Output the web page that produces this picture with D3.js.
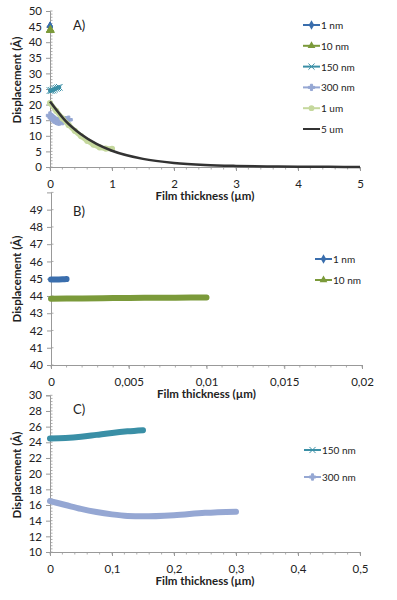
<!DOCTYPE html>
<html>
<head>
<meta charset="utf-8">
<script src="https://cdn.jsdelivr.net/npm/d3@7"></script>
<style>
  body { margin: 0; background: #fff; }
  svg text { font-family: Lato, "Open Sans", sans-serif; fill: #222; }
</style>
</head>
<body>
<svg id="chart" width="397" height="600"></svg>
<script>
// series values, thickness in µm, displacement in Å
var nm1X = [0, 0.00025, 0.0005, 0.00075, 0.001];
var nm1Y = [44.95, 44.95, 44.96, 44.97, 44.98];
var nm10X = [0, 0.002, 0.004, 0.006, 0.008, 0.01];
var nm10Y = [43.84, 43.86, 43.88, 43.89, 43.9, 43.91];
var nm150X = [0, 0.025, 0.05, 0.075, 0.1, 0.125, 0.15];
var nm150Y = [24.5, 24.55, 24.7, 24.95, 25.2, 25.4, 25.55];
var nm300X = [0, 0.025, 0.05, 0.075, 0.1, 0.125, 0.15, 0.2, 0.25, 0.3];
var nm300Y = [16.5, 16.0, 15.5, 15.1, 14.8, 14.6, 14.55, 14.7, 15.0, 15.15];
var um1X = [0, 0.1, 0.2, 0.3, 0.4, 0.5, 0.6, 0.7, 0.8, 0.9, 1.0];
var um1Y = [20.5, 18.0, 15.6, 13.5, 11.6, 9.9, 8.4, 7.2, 6.3, 5.9, 5.8];
var um5X = [0, 0.25, 0.5, 0.75, 1, 1.5, 2, 2.5, 3, 3.5, 4, 4.5, 5];
var um5Y = [21, 14.8, 10.5, 7.4, 5.2, 2.6, 1.3, 0.65, 0.35, 0.2, 0.1, 0.05, 0.03];

var seriesNames = ["1 nm", "10 nm", "150 nm", "300 nm", "1 um", "5 um"];
var seriesColors = ["#3a6ead", "#7b9a3a", "#3a8fa6", "#95a7d3", "#c5d89d", "#333333"];
var seriesMarkers = ["diamond", "triangle", "star", "plus", "circle", "none"];

function zip(xs, ys) { return xs.map(function(x, i) { return [x, ys[i]]; }); }
var allSeries = [zip(nm1X, nm1Y), zip(nm10X, nm10Y), zip(nm150X, nm150Y),
                 zip(nm300X, nm300Y), zip(um1X, um1Y), zip(um5X, um5Y)];

var comma = d3.formatLocale({decimal: ",", thousands: ".", grouping: [3], currency: ["", ""]});

var svg = d3.select("#chart");

function marker(g, type, color, cx, cy, size) {
    var sym = {diamond: d3.symbolDiamond, triangle: d3.symbolTriangle,
               star: d3.symbolX, plus: d3.symbolCross, circle: d3.symbolCircle}[type];
    if (!sym) return;
    g.append("path")
     .attr("d", d3.symbol().type(sym).size(size)())
     .attr("transform", "translate(" + cx + "," + cy + ")")
     .attr("fill", color)
     .attr("stroke", type == "star" || type == "plus" ? color : "none")
     .attr("stroke-width", 1);
}

function drawPanel(p) {
    var x = d3.scaleLinear().domain(p.xDomain).range([p.left, p.right]);
    var y = d3.scaleLinear().domain(p.yDomain).range([p.bottom, p.top]);
    var g = svg.append("g");

    // minor ticks
    g.append("g").selectAll("line").data(d3.range(p.yDomain[0], p.yDomain[1] + 1e-9, p.yMinor))
     .enter().append("line")
     .attr("x1", p.left).attr("x2", p.left + 2.5)
     .attr("y1", function(d) { return y(d); }).attr("y2", function(d) { return y(d); })
     .attr("stroke", "#999").attr("stroke-width", 0.8);
    g.append("g").selectAll("line").data(d3.range(p.xDomain[0], p.xDomain[1] + 1e-9, p.xMinor))
     .enter().append("line")
     .attr("x1", function(d) { return x(d); }).attr("x2", function(d) { return x(d); })
     .attr("y1", p.bottom).attr("y2", p.bottom + 2.5)
     .attr("stroke", "#999").attr("stroke-width", 0.8);

    var yAxis = g.append("g")
       .attr("transform", "translate(" + p.left + ",0)")
       .call(d3.axisLeft(y).tickValues(p.yTicks).tickSize(4).tickPadding(4).tickFormat(d3.format("d")));
    var xAxis = g.append("g")
       .attr("transform", "translate(0," + p.bottom + ")")
       .call(d3.axisBottom(x).tickValues(p.xTicks).tickSize(4).tickPadding(9).tickFormat(comma.format("~g")));
    [yAxis, xAxis].forEach(function(a) {
        a.select(".domain").attr("stroke", "#999");
        a.selectAll(".tick line").attr("stroke", "#999");
        a.selectAll("text").attr("font-size", 11.5).attr("fill", "#222")
         .attr("font-family", "Lato, 'Open Sans', sans-serif");
    });

    g.append("text").attr("x", (p.left + p.right) / 2).attr("y", p.bottom + 33)
     .attr("text-anchor", "middle").attr("font-size", 11.5).attr("font-weight", "bold")
     .text("Film thickness (µm)");
    g.append("text").attr("transform", "translate(21," + p.yTitleY + ") rotate(-90)")
     .attr("text-anchor", "middle").attr("font-size", 11.5).attr("font-weight", "bold")
     .text("Displacement (Å)");
    g.append("text").attr("x", p.labelX).attr("y", p.labelY)
     .attr("font-size", 13).text(p.label);

    var line = d3.line().curve(d3.curveMonotoneX)
        .x(function(d) { return x(d[0]); })
        .y(function(d) { return y(d[1]); });

    p.series.forEach(function(si, k) {
        g.append("path").datum(allSeries[si])
         .attr("d", line)
         .attr("fill", "none")
         .attr("stroke", seriesColors[si])
         .attr("stroke-width", p.widths[k])
         .attr("stroke-linecap", si == 5 ? "butt" : "round")
         .attr("stroke-linejoin", "round");
        if (p.pointMarkers && si != 5) {
            allSeries[si].forEach(function(d) {
                marker(g, seriesMarkers[si], seriesColors[si], x(d[0]), y(d[1]), 30);
            });
        }
    });

    // legend
    p.series.forEach(function(si, k) {
        var ly = p.legendY + k * p.legendStep;
        g.append("line").attr("x1", p.legendX).attr("x2", p.legendX + 17)
         .attr("y1", ly).attr("y2", ly)
         .attr("stroke", seriesColors[si]).attr("stroke-width", 2);
        marker(g, seriesMarkers[si], seriesColors[si], p.legendX + 8.5, ly, seriesMarkers[si] == "plus" ? 22 : 26);
        g.append("text").attr("x", p.legendX + 18).attr("y", ly + 4)
         .attr("font-size", 10).text(seriesNames[si]);
    });
}

drawPanel({
    xDomain: [0, 5], yDomain: [0, 50], left: 50, right: 360, top: 11, bottom: 167,
    xTicks: [0, 1, 2, 3, 4, 5], yTicks: d3.range(0, 51, 5), xMinor: 0.2, yMinor: 1,
    yTitleY: 80, label: "A)", labelX: 73, labelY: 30,
    series: [0, 1, 2, 3, 4, 5], widths: [4, 4, 4, 4, 5, 2.5], pointMarkers: true,
    legendX: 303, legendY: 25, legendStep: 20.8
});

drawPanel({
    xDomain: [0, 0.02], yDomain: [40, 50], left: 51, right: 362, top: 192.4, bottom: 365,
    xTicks: [0, 0.005, 0.01, 0.015, 0.02], yTicks: d3.range(40, 50, 1), xMinor: 0.001, yMinor: 1,
    yTitleY: 279, label: "B)", labelX: 73, labelY: 216,
    series: [0, 1], widths: [6, 6],
    legendX: 315, legendY: 259, legendStep: 21
});

drawPanel({
    xDomain: [0, 0.5], yDomain: [10, 30], left: 50, right: 360, top: 395.3, bottom: 552,
    xTicks: [0, 0.1, 0.2, 0.3, 0.4, 0.5], yTicks: d3.range(10, 31, 2), xMinor: 0.02, yMinor: 0.4,
    yTitleY: 475, label: "C)", labelX: 73, labelY: 414,
    series: [2, 3], widths: [6, 6],
    legendX: 304, legendY: 450, legendStep: 27
});
</script>
</body>
</html>
